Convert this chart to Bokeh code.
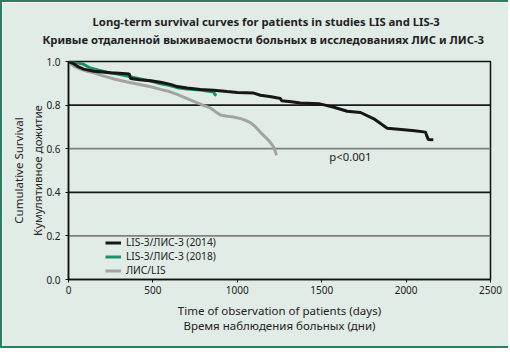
from bokeh.plotting import figure
from bokeh.models import Title, Span, Label, FixedTicker, Range1d, Legend, LegendItem
from bokeh.embed import file_html
from bokeh.resources import INLINE

# ---- data ----
days_2014 = [0, 30, 60, 90, 150, 250, 300, 360, 368, 420, 486, 545, 604, 644, 703, 782, 860, 940,
             1000, 1097, 1137, 1200, 1256, 1262, 1320, 1374, 1483, 1520, 1572, 1651, 1730, 1809,
             1888, 1987, 2050, 2115, 2122, 2132, 2161]
surv_2014 = [1.0, 0.99, 0.975, 0.965, 0.955, 0.948, 0.946, 0.943, 0.922, 0.916, 0.912, 0.905, 0.895,
             0.885, 0.878, 0.872, 0.868, 0.862, 0.858, 0.855, 0.845, 0.838, 0.83, 0.82, 0.815, 0.81,
             0.806, 0.80, 0.79, 0.772, 0.766, 0.737, 0.694, 0.687, 0.682, 0.676, 0.66, 0.642, 0.641]

days_2018 = [0, 40, 81, 130, 180, 229, 290, 347, 400, 446, 500, 545, 600, 644, 700, 782, 840, 861, 866, 876]
surv_2018 = [1.0, 0.995, 0.99, 0.97, 0.96, 0.951, 0.942, 0.933, 0.925, 0.917, 0.908, 0.898, 0.89,
             0.88, 0.874, 0.869, 0.862, 0.86, 0.85, 0.844]

days_lis = [0, 20, 40, 70, 110, 150, 200, 270, 348, 430, 500, 545, 585, 640, 703, 750, 802, 841, 870,
            900, 940, 979, 1020, 1049, 1078, 1108, 1137, 1157, 1190, 1216, 1226, 1232]
surv_lis = [1.0, 0.985, 0.975, 0.965, 0.955, 0.948, 0.935, 0.92, 0.906, 0.893, 0.882, 0.872, 0.865,
            0.85, 0.83, 0.815, 0.798, 0.787, 0.77, 0.755, 0.749, 0.745, 0.738, 0.73, 0.72, 0.70,
            0.675, 0.66, 0.635, 0.607, 0.585, 0.57]

series_names = ["LIS-3/ЛИС-3 (2014)", "LIS-3/ЛИС-3 (2018)", "ЛИС/LIS"]
x_ticks = [0, 500, 1000, 1500, 2000, 2500]
y_ticks = [0.0, 0.2, 0.4, 0.6, 0.8, 1.0]
grid_levels = [0.2, 0.4, 0.6, 0.8]
p_text = "p<0.001"

title_1 = "Long-term survival curves for patients in studies LIS and LIS-3"
title_2 = "Кривые отдаленной выживаемости больных в исследованиях ЛИС и ЛИС-3"
x_label = "Time of observation of patients (days)\nВремя наблюдения больных (дни)"
y_label = "Cumulative Survival\nКумулятивное дожитие"

FONT = "Noto Sans"
BG = "#e2ece7"
TXT = "#222222"

p = figure(width=508, height=348, output_backend="svg", toolbar_location=None,
           x_range=Range1d(0, 2500), y_range=Range1d(0, 1.0),
           background_fill_color=BG, border_fill_color=BG,
           min_border_left=66, min_border_right=20, min_border_top=59, min_border_bottom=71)
p.styles = {"border": "2px solid #2f7f5f", "border-right": "none"}

p.outline_line_color = "#111111"
p.outline_line_width = 1.5
p.xgrid.visible = False
p.ygrid.visible = False

grid_colors = ["#808080", "#1a1a1a", "#808080", "#1a1a1a"]
for lv, c in zip(grid_levels, grid_colors):
    p.add_layout(Span(location=lv, dimension="width", line_color=c, line_width=1.8, level="underlay"))

for ax in (p.xaxis[0], p.yaxis[0]):
    ax.axis_line_color = "#111111"
    ax.axis_line_width = 1.5
    ax.major_tick_line_color = "#111111"
    ax.major_tick_in = 0
    ax.major_tick_out = 3
    ax.minor_tick_line_color = None
    ax.major_label_text_font = FONT
    ax.major_label_text_font_size = "10px"
    ax.major_label_text_color = TXT
    ax.axis_label_text_font = FONT
    ax.axis_label_text_font_size = "11.5px"
    ax.axis_label_text_font_style = "normal"
    ax.axis_label_text_color = TXT

p.xaxis.ticker = FixedTicker(ticks=x_ticks)
p.yaxis.ticker = FixedTicker(ticks=y_ticks)
p.yaxis.major_label_overrides = {v: f"{v:.1f}" for v in y_ticks}
p.xaxis.axis_label = x_label
p.yaxis.axis_label = y_label
p.xaxis.axis_label_text_line_height = 1.05
p.yaxis.axis_label_text_line_height = 1.3
p.xaxis.major_label_standoff = 3
p.yaxis.major_label_standoff = 5
p.xaxis.axis_label_standoff = 6
p.yaxis.axis_label_standoff = -2

r_lis = p.line(days_lis, surv_lis, line_color="#a3a3a3", line_width=3)
r_2018 = p.line(days_2018, surv_2018, line_color="#1e9064", line_width=3)
r_2014 = p.line(days_2014, surv_2014, line_color="#161616", line_width=3)

legend = Legend(items=[LegendItem(label=series_names[0], renderers=[r_2014]),
                       LegendItem(label=series_names[1], renderers=[r_2018]),
                       LegendItem(label=series_names[2], renderers=[r_lis])],
                location=(37, 2), background_fill_alpha=0, border_line_alpha=0,
                label_text_font=FONT, label_text_font_size="10.2px", label_text_color=TXT,
                glyph_width=16, glyph_height=13, label_height=13, label_standoff=5,
                spacing=0, padding=0, margin=0)
p.add_layout(legend, "center")

p.add_layout(Label(x=1670, y=0.564, text=p_text, text_align="center", text_baseline="middle",
                   text_font=FONT, text_font_size="11.3px", text_color=TXT))

p.add_layout(Title(text=title_2, align="left", text_font=FONT, text_font_size="11.3px",
                   text_font_style="bold", text_color=TXT, offset=-26, standoff=29), "above")
p.add_layout(Title(text=title_1, align="left", text_font=FONT, text_font_size="11.3px",
                   text_font_style="bold", text_color=TXT, offset=24, standoff=-27), "above")

open("out.html", "w").write(file_html(p, INLINE))
